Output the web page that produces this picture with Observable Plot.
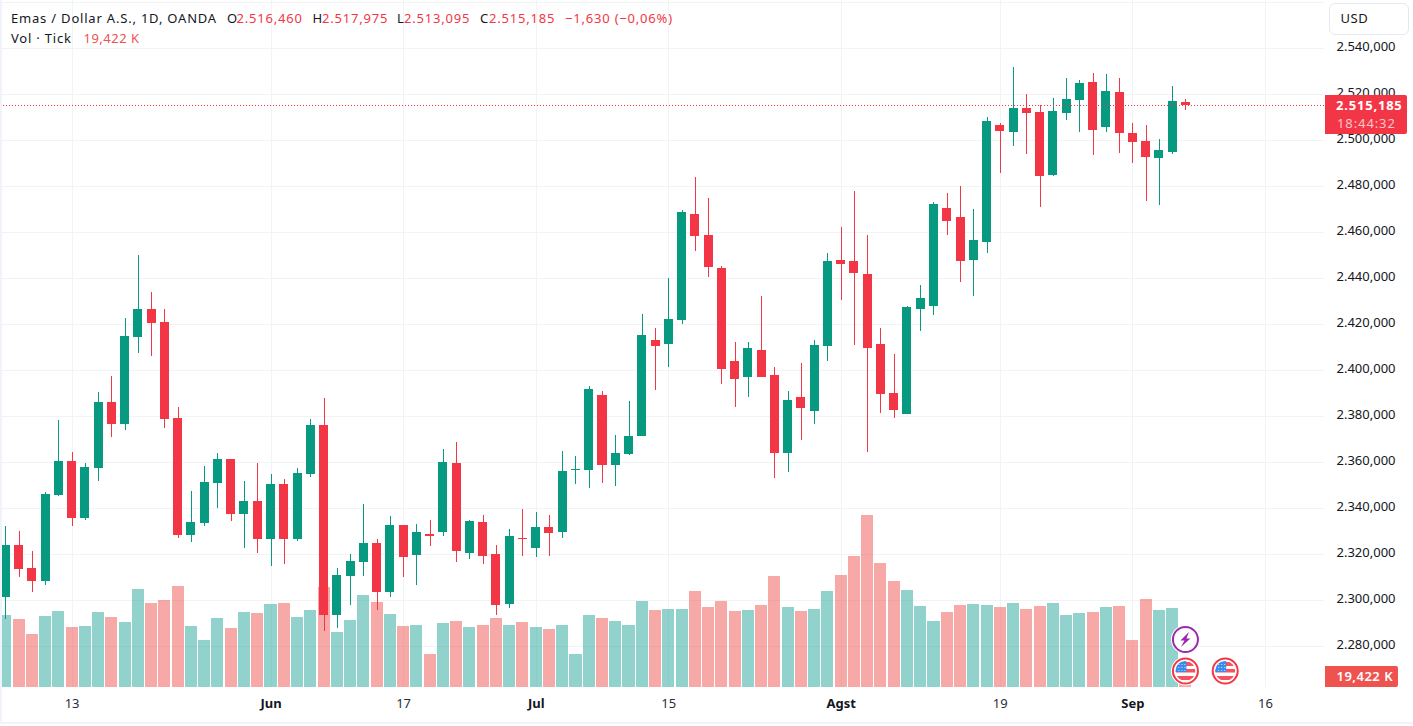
<!DOCTYPE html>
<html>
<head>
<meta charset="utf-8">
<title>Emas / Dollar A.S.</title>
<script src="https://cdn.jsdelivr.net/npm/d3@7"></script>
<script src="https://cdn.jsdelivr.net/npm/@observablehq/plot@0.6"></script>
<style>
  html, body { margin: 0; padding: 0; background: #fff; width: 1413px; height: 726px; overflow: hidden; }
  body { position: relative; font-family: "Noto Sans", sans-serif; color: #131722; }
  #chart { position: absolute; left: 0; top: 0; }
  .t { position: absolute; font-size: 13px; line-height: 16px; white-space: nowrap; letter-spacing: .8px; }
  .r { color: #f23645; }
  .v { color: #ef5350; }
  .tag { position: absolute; border-radius: 0 2px 2px 0; }
  #usd { position: absolute; left: 1329px; top: 3px; width: 78px; height: 30px; border: 1.5px solid #e6e8f0; border-radius: 6px; box-sizing: content-box; }
  #left { position: absolute; left: 0; top: 0; width: 2px; height: 722px; background: #f0f3fa; }
  #bottom { position: absolute; left: 0; top: 722px; width: 1413px; height: 2px; background: #f0f3fa; }
</style>
</head>
<body>
<div id="chart"></div>
<div id="left"></div>
<div id="bottom"></div>
<script>
// Daily candles, oldest to newest. Prices in USD per the chart's own units.
const open = [2301.6,2324.0,2314.0,2308.4,2345.8,2360.6,2335.8,2357.5,2386.2,2376.7,
  2414.5,2426.7,2421.0,2379.3,2328.4,2333.6,2351.0,2361.4,2337.5,2343.2,
  2326.7,2350.6,2326.7,2354.9,2376.2,2293.6,2310.6,2316.7,2324.9,2303.6,
  2332.7,2319.7,2328.8,2329.7,2359.7,2320.6,2334.0,2320.1,2298.4,2327.1,
  2322.7,2331.9,2329.7,2356.7,2356.7,2389.3,2358.8,2363.6,2371.4,2413.2,
  2411.4,2421.9,2468.0,2458.8,2444.5,2404.0,2397.1,2408.8,2398.0,2364.0,
  2388.4,2382.3,2410.6,2448.0,2447.5,2441.9,2411.4,2390.1,2381.0,2426.7,
  2428.0,2470.6,2466.7,2448.0,2455.8,2506.7,2503.6,2514.0,2512.3,2484.9,
  2511.9,2517.5,2525.3,2505.8,2521.0,2503.2,2499.7,2492.3,2494.9,2516.46];
const close = [2324.0,2313.6,2308.4,2346.2,2360.6,2335.8,2358.0,2386.2,2376.7,2414.9,
  2426.7,2420.6,2378.8,2328.4,2334.0,2351.4,2361.4,2337.5,2343.2,2326.7,
  2350.6,2326.7,2355.3,2376.2,2293.6,2311.0,2317.1,2324.9,2303.6,2332.7,
  2318.8,2329.7,2328.0,2360.1,2321.4,2334.5,2319.3,2298.0,2328.0,2326.7,
  2331.9,2329.3,2356.2,2357.1,2391.9,2358.8,2364.0,2371.4,2415.3,2410.6,
  2422.3,2468.8,2458.4,2444.9,2400.6,2396.2,2409.7,2397.1,2364.0,2387.1,
  2383.6,2411.0,2447.5,2446.2,2442.3,2409.7,2389.7,2382.7,2427.5,2431.4,
  2472.3,2464.9,2447.5,2456.7,2508.4,2504.0,2514.0,2511.9,2484.5,2512.7,
  2518.0,2524.9,2504.5,2521.4,2503.2,2499.3,2492.7,2495.8,2517.1,2515.185];
const high = [2332.3,2330.1,2321.4,2347.1,2378.4,2364.5,2359.7,2390.6,2397.5,2422.7,
  2450.1,2434.0,2426.7,2384.0,2347.5,2358.4,2364.0,2361.4,2351.9,2359.7,
  2354.9,2352.7,2357.5,2378.8,2388.0,2314.0,2320.1,2341.9,2326.7,2336.7,
  2332.7,2333.2,2334.9,2365.8,2368.8,2334.9,2337.1,2324.0,2331.0,2339.7,
  2338.4,2337.1,2364.9,2362.7,2393.2,2391.0,2371.9,2386.7,2424.5,2418.4,
  2440.1,2469.7,2484.0,2474.9,2445.3,2412.3,2412.3,2432.3,2401.4,2391.0,
  2403.2,2413.2,2451.0,2462.3,2478.0,2458.8,2418.4,2407.1,2428.0,2437.1,
  2473.2,2477.1,2480.1,2470.1,2510.1,2507.5,2531.9,2520.1,2515.3,2518.4,
  2527.1,2526.2,2529.3,2528.8,2527.1,2507.5,2506.7,2500.6,2523.6,2517.975];
const low = [2291.9,2310.1,2303.6,2306.7,2345.3,2332.3,2334.9,2351.9,2371.0,2374.0,
  2407.5,2406.2,2374.9,2327.1,2325.3,2332.3,2340.1,2334.5,2322.7,2320.6,
  2314.9,2315.8,2325.8,2353.6,2286.7,2288.0,2298.0,2310.6,2295.8,2301.4,
  2310.1,2306.7,2323.6,2328.0,2316.7,2318.0,2315.8,2293.6,2296.7,2319.3,
  2318.8,2319.3,2327.1,2350.6,2348.8,2351.0,2349.7,2363.2,2371.4,2391.4,
  2401.4,2420.1,2451.9,2440.6,2394.0,2384.0,2388.4,2397.1,2353.2,2355.8,
  2369.7,2376.7,2404.0,2430.6,2411.0,2364.5,2381.4,2379.3,2381.0,2417.1,
  2424.0,2458.8,2438.4,2432.3,2451.0,2485.8,2497.5,2494.0,2471.0,2484.5,
  2508.8,2503.6,2493.6,2503.6,2494.5,2490.1,2473.6,2471.9,2494.0,2513.095];
// Tick volume, in thousands.
const volume = [144,136,106,142,152,120,122,150,140,130,
  196,168,174,202,122,94,138,118,150,148,
  166,168,140,154,200,110,134,184,170,146,
  122,124,66,128,132,120,124,138,124,130,
  120,116,124,66,144,138,132,124,172,154,
  156,156,192,160,172,152,154,164,222,160,
  152,156,192,224,262,344,248,212,194,162,
  132,150,164,166,164,160,168,156,162,168,
  144,148,150,160,162,94,176,154,158,19.422];

// Axis content.
const priceTicks = [2280,2300,2320,2340,2360,2380,2400,2420,2440,2460,2480,2500,2520,2540];
const gridPrices = [...priceTicks, 2560];
const timeTickIndex = [5,20,30,40,50,63,75,85,95];
const timeTickLabels = ["13","Jun","17","Jul","15","Agst","19","Sep","16"];
const monthLabels = ["Jun","Jul","Agst","Sep"];
const lastPrice = 2515.185;
const boltEventIndex = 89;
const flagEventIndex = [89,92];

// Header texts.
const instrument = "Emas / Dollar A.S., 1D, OANDA";
const legendValues = [["O",227,"2.516,460",236.5],["H",312.5,"2.517,975",322],["L",397,"2.513,095",404],["C",480,"2.515,185",489]];
const changeText = "\u22121,630 (\u22120,06%)";

const RED = "#f23645", GREEN = "#089981";
const VRED = "rgba(239,83,80,0.5)", VGREEN = "rgba(38,166,154,0.5)";
const FONT = '"Noto Sans", sans-serif';
const GRID = "#f2f3f5";

const candles = open.map((o, i) => ({i, o, c: close[i], h: high[i], l: low[i], v: volume[i], up: close[i] >= o}));
const timeTicks = timeTickIndex.map((i, k) => ({i, label: timeTickLabels[k], month: monthLabels.includes(timeTickLabels[k])}));

const priceFmt = d3.formatLocale({decimal: ",", thousands: ".", grouping: [3]}).format(",.3f");

// The volume histogram shares the price pane, anchored to the pane's bottom edge.
const yDomain = [2262.3, 2561];
const volToPrice = v => yDomain[0] + v * (0.5 / 2.3);

function eventMarkers(index, {x, y}, values, dims) {
  const g = d3.create("svg:g");
  const defs = g.append("defs");
  defs.append("clipPath").attr("id", "flagClip").append("circle").attr("r", 10);
  const bolt = g.append("g").attr("transform", `translate(${x(boltEventIndex)},639.5)`);
  bolt.append("circle").attr("r", 14.5).attr("fill", "#fff");
  bolt.append("circle").attr("r", 12.5).attr("fill", "#fff").attr("stroke", "#9c27b0").attr("stroke-width", 2);
  bolt.append("path").attr("d", "M3.5,-7.5 L-5,1 L-1,1 L-4.5,7.5 L5,-1 L1,-1 Z").attr("fill", "#9c27b0");
  for (const i of flagEventIndex) {
    const f = g.append("g").attr("transform", `translate(${x(i)},671)`);
    f.append("circle").attr("r", 14.5).attr("fill", "#fff");
    f.append("circle").attr("r", 12.5).attr("fill", "#fff").attr("stroke", "#f23645").attr("stroke-width", 2);
    const inner = f.append("g").attr("clip-path", "url(#flagClip)");
    inner.append("rect").attr("x", -10).attr("y", -10).attr("width", 20).attr("height", 20).attr("fill", "#fff");
    inner.append("rect").attr("x", -10).attr("y", -9).attr("width", 20).attr("height", 4).attr("fill", "#f7525f");
    inner.append("rect").attr("x", -10).attr("y", -2).attr("width", 20).attr("height", 3.5).attr("fill", "#f7525f");
    inner.append("rect").attr("x", -10).attr("y", 5).attr("width", 20).attr("height", 4).attr("fill", "#f7525f");
    inner.append("rect").attr("x", -10).attr("y", -10).attr("width", 11).attr("height", 11).attr("fill", "#3a8bee");
    for (const dx of [-7, -4, -1]) for (const dy of [-7, -4, -1])
      inner.append("rect").attr("x", dx).attr("y", dy).attr("width", 1).attr("height", 1).attr("fill", "#cfe3fb");
  }
  return g.node();
}

const chart = Plot.plot({
  width: 1413,
  height: 726,
  marginLeft: 0,
  marginTop: 0,
  marginRight: 89,
  marginBottom: 39,
  style: {background: "#fff", fontFamily: FONT, color: "#131722", overflow: "visible"},
  x: {domain: [-0.4, 99.45], axis: null},
  y: {domain: yDomain},
  marks: [
    Plot.gridY(gridPrices, {stroke: GRID, strokeOpacity: 1, shapeRendering: "crispEdges"}),
    Plot.gridX(timeTickIndex, {stroke: GRID, strokeOpacity: 1, shapeRendering: "crispEdges"}),
    Plot.rect(candles, {
      x1: d => d.i - 0.455, x2: d => d.i + 0.455,
      y1: () => yDomain[0], y2: d => volToPrice(d.v),
      fill: d => d.up ? VGREEN : VRED, shapeRendering: "crispEdges"
    }),
    Plot.ruleX(candles, {
      x: "i", y1: "l", y2: "h",
      stroke: d => d.up ? GREEN : RED, strokeWidth: 1, shapeRendering: "crispEdges"
    }),
    Plot.rect(candles, {
      x1: d => d.i - 0.34, x2: d => d.i + 0.34,
      y1: "o", y2: "c",
      fill: d => d.up ? GREEN : RED, shapeRendering: "crispEdges"
    }),
    Plot.ruleY([lastPrice], {stroke: RED, strokeWidth: 1, strokeDasharray: "1,2", shapeRendering: "crispEdges"}),
    Plot.axisY(priceTicks, {
      anchor: "right", tickSize: 0, tickPadding: 12, label: null, dy: -1.5,
      tickFormat: priceFmt, fontSize: 13, color: "#131722", fill: "#131722",
      style: {letterSpacing: ".95px"}
    }),
    Plot.text(timeTicks.filter(d => !d.month), {
      x: "i", text: "label", frameAnchor: "bottom", dy: 20,
      fontSize: 13, fill: "#2a2e39"
    }),
    Plot.text(timeTicks.filter(d => d.month), {
      x: "i", text: "label", frameAnchor: "bottom", dy: 20,
      fontSize: 13, fontWeight: 700, fill: "#131722"
    }),
    eventMarkers
  ]
});
document.getElementById("chart").appendChild(chart);

// Header, currency box and axis tags are HTML placed over the chart.
function put(text, left, top, cls, extra) {
  const d = document.createElement("div");
  d.className = "t " + (cls || "");
  d.textContent = text;
  d.style.left = left + "px";
  d.style.top = top + "px";
  if (extra) Object.assign(d.style, extra);
  document.body.appendChild(d);
  return d;
}
put(instrument, 11, 10);
for (const [k, kx, v, vx] of legendValues) {
  put(k, kx, 10);
  put(v, vx, 10, "r");
}
put(changeText, 565, 10, "r");
put("Vol \u00b7 Tick", 11, 30);
put("19,422 K", 83.5, 30, "v", {letterSpacing: ".5px"});

const usd = document.createElement("div"); usd.id = "usd"; document.body.appendChild(usd);
put("USD", 1340.5, 10, "", {fontSize: "13px", letterSpacing: ".5px"});

const tag = document.createElement("div");
tag.className = "tag";
Object.assign(tag.style, {left: "1325px", top: "95px", width: "82px", height: "39px", background: RED});
document.body.appendChild(tag);
put("2.515,185", 1336, 96.5, "", {color: "#fff", fontWeight: "700"});
put("18:44:32", 1337, 115, "", {color: "rgba(255,255,255,.72)", letterSpacing: ".9px"});

const vtag = document.createElement("div");
vtag.className = "tag";
Object.assign(vtag.style, {left: "1325px", top: "666px", width: "73px", height: "21px", background: "#ef5350"});
document.body.appendChild(vtag);
put("19,422 K", 1336.5, 668, "", {color: "#fff", fontWeight: "600", letterSpacing: ".5px"});
</script>
</body>
</html>
